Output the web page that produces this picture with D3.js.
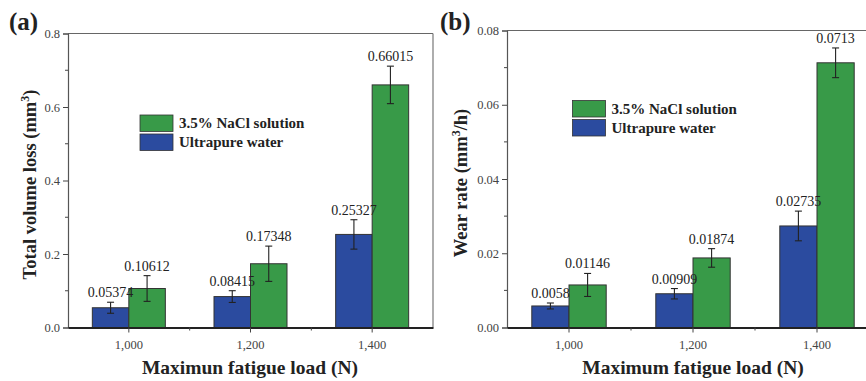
<!DOCTYPE html>
<html>
<head>
<meta charset="utf-8">
<script src="https://cdn.jsdelivr.net/npm/d3@7"></script>
<style>
  body { margin: 0; background: #fff; }
  svg text { font-family: "Liberation Serif", "Times New Roman", serif; }
  .tick text { fill: #444; font-size: 12.5px; font-family: "Liberation Serif", serif; }
  .val-label { fill: #222; font-size: 14px; }
  .axis-title { font-weight: bold; font-size: 19.5px; fill: #222; }
  .y-title { font-size: 18.5px; }
  .panel-label { font-weight: bold; font-size: 25px; fill: #222; }
  .legend-text { font-weight: bold; font-size: 15px; fill: #222; }
</style>
</head>
<body>
<div id="chart"></div>
<script>
var loads = ["1,000", "1,200", "1,400"];
var seriesNames = ["Ultrapure water", "3.5% NaCl solution"];

// panel (a): total volume loss
var volWater = [0.05374, 0.08415, 0.25327];
var volNaCl = [0.10612, 0.17348, 0.66015];
var volWaterErr = [0.015, 0.016, 0.040];
var volNaClErr = [0.035, 0.048, 0.051];
var volWaterLabels = ["0.05374", "0.08415", "0.25327"];
var volNaClLabels = ["0.10612", "0.17348", "0.66015"];
var volTicks = [0, 0.2, 0.4, 0.6, 0.8];

// panel (b): wear rate
var rateWater = [0.0058, 0.00909, 0.02735];
var rateNaCl = [0.01146, 0.01874, 0.0713];
var rateWaterErr = [0.0008, 0.0014, 0.004];
var rateNaClErr = [0.0031, 0.0025, 0.004];
var rateWaterLabels = ["0.0058", "0.00909", "0.02735"];
var rateNaClLabels = ["0.01146", "0.01874", "0.0713"];
var rateTicks = [0, 0.02, 0.04, 0.06, 0.08];

var colors = { water: "#2b4b9f", nacl: "#389a48" };

var svg = d3.select("#chart").append("svg")
    .attr("width", 866)
    .attr("height", 381);

function drawPanel(p) {
    var g = svg.append("g")
        .attr("transform", "translate(" + p.left + "," + p.top + ")");

    var x = d3.scaleBand().domain(loads).range([0, p.width]).padding(0);
    var y = d3.scaleLinear().domain([0, p.ymax]).range([p.height, 0]);
    var barW = x.bandwidth() * 0.3;

    var rows = loads.map(function(d, i) {
        return [
            { load: d, key: "water", v: p.water[i], e: p.waterErr[i], lab: p.waterLabels[i], off: -barW },
            { load: d, key: "nacl", v: p.nacl[i], e: p.naclErr[i], lab: p.naclLabels[i], off: 0 }
        ];
    });
    var bars = d3.merge(rows);

    // frame (top + right)
    g.append("line").attr("x1", 0).attr("x2", p.width).attr("y1", 0).attr("y2", 0)
        .attr("stroke", "#666").attr("stroke-width", 1.2);
    g.append("line").attr("x1", p.width).attr("x2", p.width).attr("y1", 0).attr("y2", p.height)
        .attr("stroke", "#777").attr("stroke-width", 1.2);

    g.selectAll(".bar").data(bars).enter()
        .append("rect")
        .attr("class", "bar")
        .attr("x", function(d) { return x(d.load) + x.bandwidth() / 2 + d.off; })
        .attr("y", function(d) { return y(d.v); })
        .attr("width", barW)
        .attr("height", function(d) { return p.height - y(d.v); })
        .attr("fill", function(d) { return colors[d.key]; })
        .attr("stroke", "#333")
        .attr("stroke-width", 1);

    var cx = function(d) { return x(d.load) + x.bandwidth() / 2 + d.off + barW / 2; };

    var err = g.selectAll(".err").data(bars).enter().append("g").attr("class", "err")
        .attr("stroke", "#222").attr("stroke-width", 1.1);
    err.append("line")
        .attr("x1", cx).attr("x2", cx)
        .attr("y1", function(d) { return y(d.v + d.e); })
        .attr("y2", function(d) { return y(d.v - d.e); });
    err.append("line")
        .attr("x1", function(d) { return cx(d) - 3.5; }).attr("x2", function(d) { return cx(d) + 3.5; })
        .attr("y1", function(d) { return y(d.v + d.e); }).attr("y2", function(d) { return y(d.v + d.e); });
    err.append("line")
        .attr("x1", function(d) { return cx(d) - 3.5; }).attr("x2", function(d) { return cx(d) + 3.5; })
        .attr("y1", function(d) { return y(d.v - d.e); }).attr("y2", function(d) { return y(d.v - d.e); });

    g.selectAll(".val-label").data(bars).enter()
        .append("text")
        .attr("class", "val-label")
        .attr("text-anchor", "middle")
        .attr("x", cx)
        .attr("y", function(d) { return y(d.v + d.e) - 5; })
        .text(function(d) { return d.lab; });

    // y axis with minor ticks
    var yAxis = d3.axisLeft(y).tickValues(p.ticks).tickFormat(p.fmt).tickSize(5).tickPadding(3);
    var ya = g.append("g").attr("class", "y-axis").call(yAxis);
    var minors = d3.range(0, p.ticks.length - 1).map(function(i) { return (p.ticks[i] + p.ticks[i + 1]) / 2; });
    ya.selectAll(".minor").data(minors).enter().append("line").attr("class", "minor")
        .attr("x1", -3).attr("x2", 0)
        .attr("y1", function(d) { return y(d); }).attr("y2", function(d) { return y(d); })
        .attr("stroke", "#444");
    ya.select(".domain").attr("stroke", "#555").attr("stroke-width", 1.2);
    ya.selectAll(".tick line").attr("stroke", "#444");

    // x axis with minor ticks at band edges
    var xAxis = d3.axisBottom(x).tickSize(5).tickSizeOuter(0).tickPadding(8);
    var xa = g.append("g").attr("class", "x-axis")
        .attr("transform", "translate(0," + p.height + ")").call(xAxis);
    xa.selectAll(".minor").data(loads.slice(1)).enter().append("line").attr("class", "minor")
        .attr("x1", function(d) { return x(d); }).attr("x2", function(d) { return x(d); })
        .attr("y1", 0).attr("y2", 3).attr("stroke", "#444");
    xa.select(".domain").attr("stroke", "#222").attr("stroke-width", 1.8);
    xa.selectAll(".tick line").attr("stroke", "#444");

    // titles
    g.append("text").attr("class", "axis-title")
        .attr("text-anchor", "middle")
        .attr("x", p.xTitleX).attr("y", p.height + 46)
        .text(p.xTitle);

    var yt = g.append("text").attr("class", "axis-title y-title")
        .attr("text-anchor", "middle")
        .attr("transform", "translate(" + p.yTitleX + "," + (p.height / 2 + 4) + ")rotate(-90)");
    yt.append("tspan").text(p.yTitle[0]);
    yt.append("tspan").attr("font-size", "12px").attr("dy", -7).text("3");
    yt.append("tspan").attr("dy", 7).text(p.yTitle[1]);

    svg.append("text").attr("class", "panel-label")
        .attr("x", p.labelX).attr("y", 30)
        .text(p.label);

    // legend
    var lg = g.append("g").attr("transform", "translate(" + p.legX + "," + p.legY + ")");
    var legItems = [{ key: "nacl", name: seriesNames[1] }, { key: "water", name: seriesNames[0] }];
    lg.selectAll("rect").data(legItems).enter().append("rect")
        .attr("x", 0).attr("y", function(d, i) { return i * 19; })
        .attr("width", 33).attr("height", 16.5)
        .attr("fill", function(d) { return colors[d.key]; })
        .attr("stroke", "#333").attr("stroke-width", 0.8);
    lg.selectAll("text").data(legItems).enter().append("text")
        .attr("class", "legend-text")
        .attr("x", 39).attr("y", function(d, i) { return i * 19 + 13; })
        .text(function(d) { return d.name; });
}

drawPanel({
    left: 68, top: 33.5, width: 365, height: 294, ymax: 0.8,
    water: volWater, nacl: volNaCl, waterErr: volWaterErr, naclErr: volNaClErr,
    waterLabels: volWaterLabels, naclLabels: volNaClLabels,
    ticks: volTicks, fmt: d3.format(".1f"),
    xTitle: "Maximun fatigue load (N)", xTitleX: 182,
    yTitle: ["Total volume loss (mm", ")"], yTitleX: -32,
    label: "(a)", labelX: 9,
    legX: 72, legY: 81.5
});

drawPanel({
    left: 507, top: 30.5, width: 372, height: 297, ymax: 0.08,
    water: rateWater, nacl: rateNaCl, waterErr: rateWaterErr, naclErr: rateNaClErr,
    waterLabels: rateWaterLabels, naclLabels: rateNaClLabels,
    ticks: rateTicks, fmt: d3.format(".2f"),
    xTitle: "Maximum fatigue load (N)", xTitleX: 186,
    yTitle: ["Wear rate (mm", "/h)"], yTitleX: -40,
    label: "(b)", labelX: 440,
    legX: 65.5, legY: 70
});
</script>
</body>
</html>
